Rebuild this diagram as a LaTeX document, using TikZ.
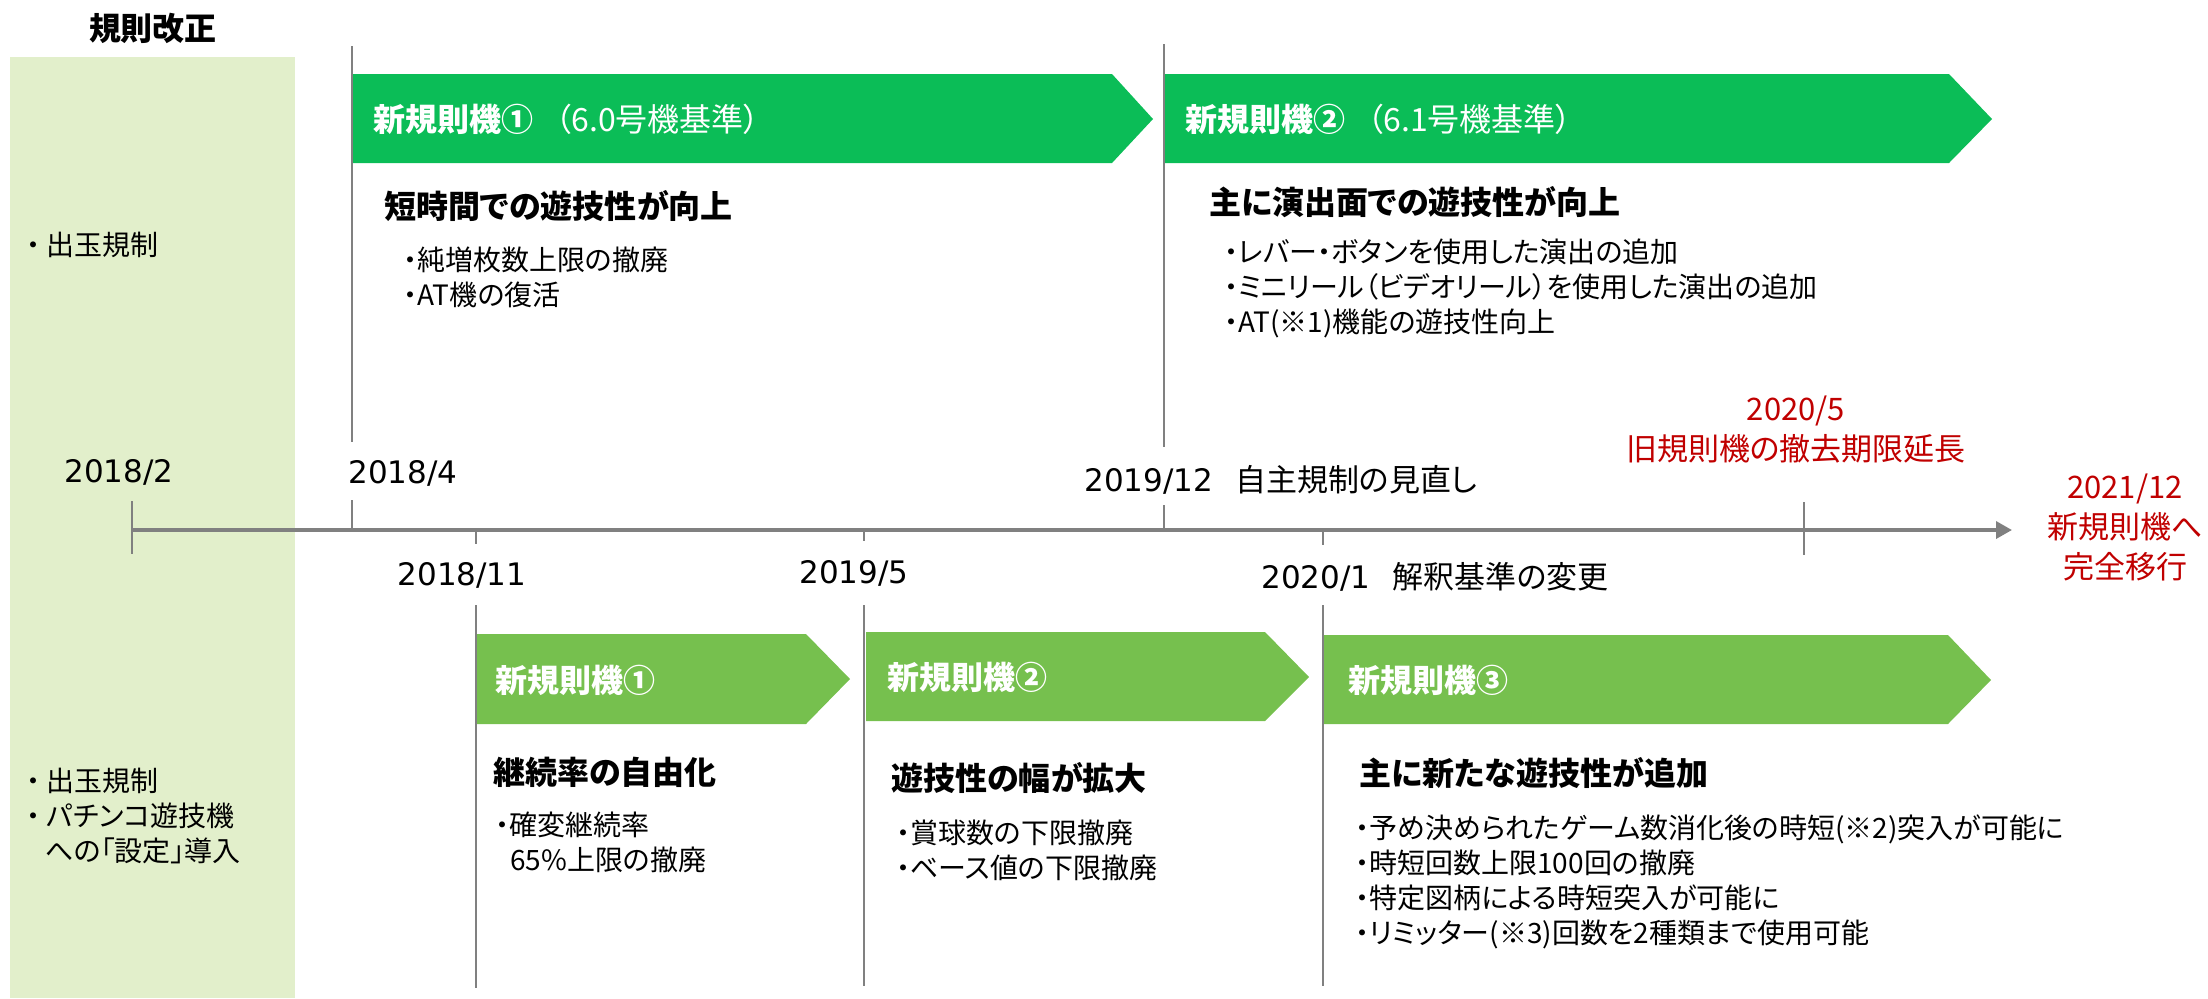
\documentclass[tikz,border=0pt]{standalone}
\usepackage{fontspec}
\setmainfont{Noto Sans CJK JP}[RawFeature=+palt]
\newfontfamily\datefont{DejaVu Sans}
\usepackage{tikz}
\usetikzlibrary{positioning}
\usetikzlibrary{calc}
\usetikzlibrary{arrows.meta}
\definecolor{panelgreen}{HTML}{E2EFCB}
\definecolor{newA}{HTML}{0BBD57}
\definecolor{newB}{HTML}{76C04E}
\definecolor{axisgray}{HTML}{808080}
\definecolor{notered}{HTML}{C00000}
\tikzset{
  tl/.style={draw=axisgray, line width=1.25pt},
  axisline/.style={draw=axisgray, line width=1.8pt, -{Triangle[length=8pt,width=8.5pt]}},
  datelabel/.style={inner sep=0pt, font=\datefont\fontsize{15.5pt}{18pt}\selectfont},
  bantext/.style={anchor=west, inner sep=0pt, text=white, font=\bfseries\fontsize{16pt}{19pt}\selectfont},
  headline/.style={anchor=west, inner sep=0pt, font=\bfseries\fontsize{16pt}{19pt}\selectfont},
  itemlist/.style={anchor=west, inner sep=0pt, align=left, font=\fontsize{14pt}{17.5pt}\selectfont},
  rednote/.style={inner sep=0pt, align=center, text=notered, font=\fontsize{15.5pt}{20pt}\selectfont}
}
\begin{document}
\begin{tikzpicture}[x=0.5pt,y=-0.5pt]
            \useasboundingbox (0,0) rectangle (2208,998);
            % left column
            \fill[panelgreen] (10,57) rectangle (295,998);
            \node [headline, anchor=center] (kaisei) at (153,28) {規則改正};
            \node [itemlist] (rule1) at (26,245) {・ 出玉規制};
            \node [itemlist, text depth=0pt] (rule2) at (26,815)
                {・ 出玉規制\\・ パチンコ遊技機\\\hspace*{9.5pt}への「設定」導入};

            % time marks
            \draw [tl] (352,46) -- (352,442);
            \draw [tl] (1164,44) -- (1164,447);
            \draw [tl] (476,605) -- (476,988);
            \draw [tl] (864,605) -- (864,986);
            \draw [tl] (1323,605) -- (1323,986);
            \draw [tl] (132,501) -- (132,554);
            \draw [tl] (352,500) -- (352,530);
            \draw [tl] (476,530) -- (476,544);
            \draw [tl] (864,530) -- (864,541);
            \draw [tl] (1164,505) -- (1164,528);
            \draw [tl] (1323,530) -- (1323,545);
            \draw [tl] (1804,502) -- (1804,555);
            \coordinate (axL) at (132,530);
            \coordinate (axR) at (2012,530);
            \draw [axisline] (axL) -- (axR);

            % dates
            \node [datelabel] (d1802) at (119,472) {2018/2};
            \node [datelabel, anchor=west] (d1804) at (348,473) {2018/4};
            \node [datelabel] (d1811) at (462,575) {2018/11};
            \node [datelabel] (d1905) at (854,573) {2019/5};
            \node [datelabel, anchor=west] (d1912) at (1084,480)
                {2019/12\hspace{11pt}{\rmfamily 自主規制の見直し}};
            \node [datelabel, anchor=west] (d2001) at (1261,577)
                {2020/1\hspace{11pt}{\rmfamily 解釈基準の変更}};
            \node [rednote] (d2005) at (1796,430) {2020/5\\旧規則機の撤去期限延長};
            \node [rednote] (d2112) at (2125,527)
                {2021/12\\新規則機へ\\完全移行};

            % upper banners
            \fill [newA] (353,74) -- (1112,74) -- (1153,119) -- (1112,163) -- (353,163) -- cycle;
            \fill [newA] (1165,74) -- (1949,74) -- (1992,119) -- (1949,163) -- (1165,163) -- cycle;
            \node [bantext] (up1) at (373,119) {新規則機①\hspace{11pt}{\mdseries （6.0号機基準）}};
            \node [bantext] (up2) at (1185,119) {新規則機②\hspace{11pt}{\mdseries （6.1号機基準）}};
            \node [headline] (up1head) at (384,206) {短時間での遊技性が向上};
            \node [itemlist] (up1list) at (403,277.5) {・純増枚数上限の撤廃\\・AT機の復活};
            \node [headline] (up2head) at (1209,202) {主に演出面での遊技性が向上};
            \node [itemlist] (up2list) at (1224,288)
                {・レバー・ボタンを使用した演出の追加\\・ミニリール（ビデオリール）を使用した演出の追加\\・AT(※1)機能の遊技性向上};

            % lower banners
            \fill [newB] (477,634) -- (806,634) -- (850,679) -- (806,724) -- (477,724) -- cycle;
            \fill [newB] (866,632) -- (1265,632) -- (1309,677) -- (1265,721) -- (866,721) -- cycle;
            \fill [newB] (1324,635) -- (1948,635) -- (1991,680) -- (1948,724) -- (1324,724) -- cycle;
            \node [bantext] (low1) at (495,680) {新規則機①};
            \node [bantext] (low2) at (887,677) {新規則機②};
            \node [bantext] (low3) at (1348,680) {新規則機③};
            \node [headline] (low1head) at (493,772) {継続率の自由化};
            \node [itemlist] (low1list) at (495,842) {・確変継続率\\\hspace*{7.5pt}65\%上限の撤廃};
            \node [headline] (low2head) at (891,778) {遊技性の幅が拡大};
            \node [itemlist] (low2list) at (896,850.5) {・賞球数の下限撤廃\\・ベース値の下限撤廃};
            \node [headline] (low3head) at (1359,773) {主に新たな遊技性が追加};
            \node [itemlist] (low3list) at (1355,882)
                {・予め決められたゲーム数消化後の時短(※2)突入が可能に\\・時短回数上限100回の撤廃\\・特定図柄による時短突入が可能に\\・リミッター(※3)回数を2種類まで使用可能};
        \end{tikzpicture}
\end{document}
